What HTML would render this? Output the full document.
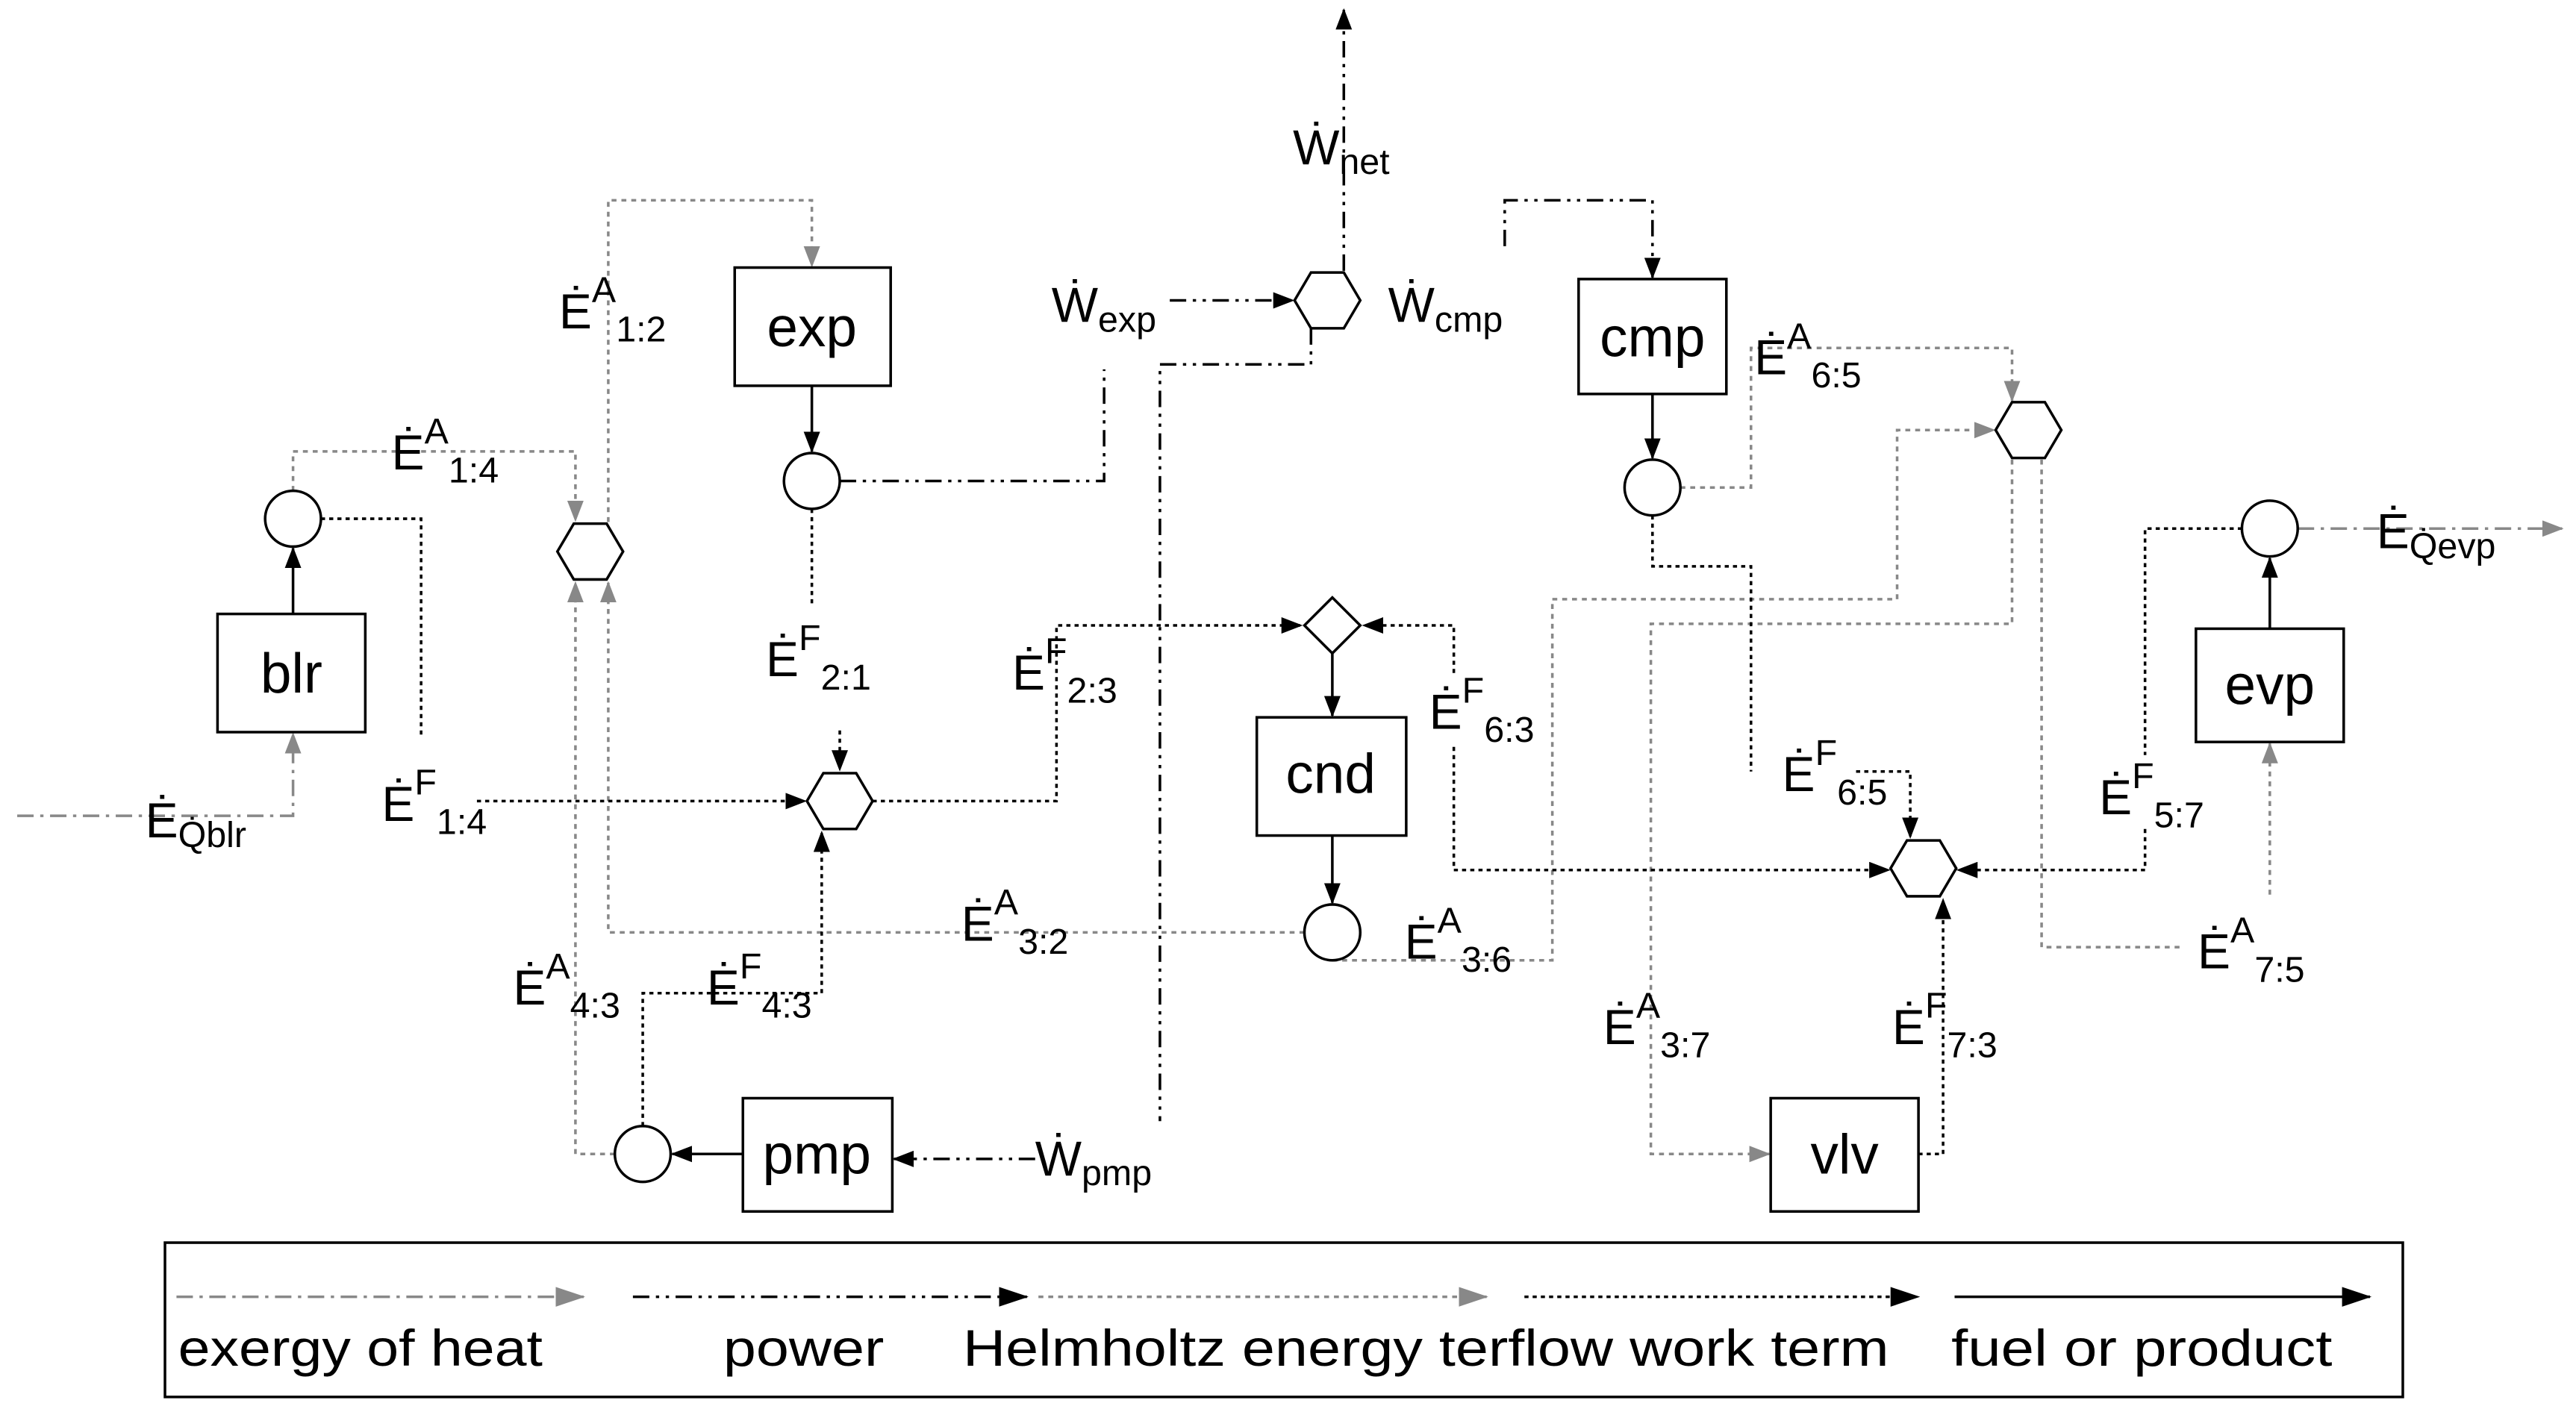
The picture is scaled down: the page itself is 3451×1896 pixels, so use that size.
<!DOCTYPE html>
<html><head><meta charset="utf-8"><style>
html,body{margin:0;padding:0;background:#fff}
svg{display:block}
text{font-family:"Liberation Sans",sans-serif;fill:#000}
</style></head><body>
<svg width="3451" height="1896" viewBox="0 0 1568 862" xmlns="http://www.w3.org/2000/svg">
<defs>
<marker id="ab" markerWidth="13" markerHeight="10" refX="12" refY="5" orient="auto" markerUnits="userSpaceOnUse"><path d="M0,0 L13,5 L0,10z" fill="#000"/></marker>
<marker id="ag" markerWidth="13" markerHeight="10" refX="12" refY="5" orient="auto" markerUnits="userSpaceOnUse"><path d="M0,0 L13,5 L0,10z" fill="#888"/></marker>
<marker id="abl" markerWidth="18" markerHeight="12" refX="17" refY="6" orient="auto" markerUnits="userSpaceOnUse"><path d="M0,0 L18,6 L0,12z" fill="#000"/></marker>
<marker id="agl" markerWidth="18" markerHeight="12" refX="17" refY="6" orient="auto" markerUnits="userSpaceOnUse"><path d="M0,0 L18,6 L0,12z" fill="#888"/></marker>
</defs>
<g fill="none" stroke-width="1.6">
<g stroke="#888" stroke-dasharray="3 3" marker-end="url(#ag)">
<path d="M370,318 V122 H494 V162"/>
<path d="M178,299 V275 H350 V317"/>
<path d="M374,703 H350 V355"/>
<path d="M794,568 H370 V355"/>
<path d="M811,585 H945 V365 H1155 V262 H1214"/>
<path d="M1023,297 H1066 V212 H1225 V244"/>
<path d="M1225,280 V380 H1005 V703 H1077"/>
<path d="M1382,545 V453"/>
</g>
<path d="M1243,280 V577 H1330" stroke="#888" stroke-dasharray="3 3"/>
<g stroke="#888" stroke-dasharray="10 4 2 4" marker-end="url(#ag)">
<path d="M10,497 H178 V447"/>
<path d="M1399,322 H1560"/>
</g>
<g stroke="#000" stroke-dasharray="10 4 2 4 2 4">
<path d="M818,165 V6" marker-end="url(#ab)"/>
<path d="M712,183 H787" marker-end="url(#ab)"/>
<path d="M511,293 H672 V225"/>
<path d="M798,200 V222 H706 V683"/>
<path d="M630,706 H544" marker-end="url(#ab)"/>
<path d="M916,150 V122 H1006 V169" marker-end="url(#ab)"/>
</g>
<g stroke="#000" stroke-dasharray="2.5 2.5">
<path d="M195,316 H256 V450"/>
<path d="M290,488 H490" marker-end="url(#ab)"/>
<path d="M494,310 V370"/>
<path d="M511,445 V469" marker-end="url(#ab)"/>
<path d="M531,488 H643 V381 H792" marker-end="url(#ab)"/>
<path d="M885,410 V381 H830" marker-end="url(#ab)"/>
<path d="M885,455 V530 H1150" marker-end="url(#ab)"/>
<path d="M1006,314 V345 H1066 V470"/>
<path d="M1130,470 H1163 V510" marker-end="url(#ab)"/>
<path d="M391,686 V605 H500 V507" marker-end="url(#ab)"/>
<path d="M1168,703 H1183 V548" marker-end="url(#ab)"/>
<path d="M1365,322 H1306 V460"/>
<path d="M1306,505 V530 H1192" marker-end="url(#ab)"/>
</g>
<g stroke="#000" marker-end="url(#ab)">
<path d="M178,374 V334"/>
<path d="M494,235 V275"/>
<path d="M1006,240 V279"/>
<path d="M1382,383 V340"/>
<path d="M811,396 V436"/>
<path d="M811,509 V550"/>
<path d="M452,703 H409"/>
</g>
<g stroke="#000" fill="#fff">
<rect x="132" y="374" width="90" height="72"/>
<rect x="447" y="163" width="95" height="72"/>
<rect x="765" y="437" width="91" height="72"/>
<rect x="961" y="170" width="90" height="70"/>
<rect x="1337" y="383" width="90" height="69"/>
<rect x="452" y="669" width="91" height="69"/>
<rect x="1078" y="669" width="90" height="69"/>
<circle cx="178" cy="316" r="17"/>
<circle cx="494" cy="293" r="17"/>
<circle cx="811" cy="568" r="17"/>
<circle cx="1006" cy="297" r="17"/>
<circle cx="1382" cy="322" r="17"/>
<circle cx="391" cy="703" r="17"/>
<path d="M811,364 L828,381 L811,398 L794,381z"/>
<path d="M349,319 H369 L379,336 L369,353 H349 L339,336z"/>
<path d="M501,471 H521 L531,488 L521,505 H501 L491,488z"/>
<path d="M798,166 H818 L828,183 L818,200 H798 L788,183z"/>
<path d="M1225,245 H1245 L1255,262 L1245,279 H1225 L1215,262z"/>
<path d="M1161,512 H1181 L1191,529 L1181,546 H1161 L1151,529z"/>
</g>
<rect x="100" y="757" width="1363" height="94" stroke="#000"/>
<path d="M107,790 H355" stroke="#888" stroke-dasharray="10 4 2 4" marker-end="url(#agl)"/>
<path d="M385,790 H625" stroke="#000" stroke-dasharray="10 4 2 4 2 4" marker-end="url(#abl)"/>
<path d="M632,790 H905" stroke="#888" stroke-dasharray="3 3" marker-end="url(#agl)"/>
<path d="M928,790 H1168" stroke="#000" stroke-dasharray="2.5 2.5" marker-end="url(#abl)"/>
<path d="M1190,790 H1443" stroke="#000" marker-end="url(#abl)"/>
</g>
<g font-size="34" text-anchor="middle">
<text x="177" y="422">blr</text>
<text x="494" y="211">exp</text>
<text x="810" y="483">cnd</text>
<text x="1006" y="217">cmp</text>
<text x="1382" y="429">evp</text>
<text x="497" y="715">pmp</text>
<text x="1123" y="715">vlv</text>
</g>
<g font-size="31">
<text x="108" y="832" textLength="222" lengthAdjust="spacingAndGlyphs">exergy of heat</text>
<text x="440" y="832" textLength="98" lengthAdjust="spacingAndGlyphs">power</text>
<text x="586" y="832" textLength="564" lengthAdjust="spacingAndGlyphs">Helmholtz energy terflow work term</text>
<text x="1188" y="832" textLength="232" lengthAdjust="spacingAndGlyphs">fuel or product</text>
</g>
<g font-size="30">
<text x="787" y="100">Ẇ<tspan font-size="22" dy="6">net</tspan></text>
<text x="640" y="196">Ẇ<tspan font-size="22" dy="6">exp</tspan></text>
<text x="845" y="196">Ẇ<tspan font-size="22" dy="6">cmp</tspan></text>
<text x="630" y="716">Ẇ<tspan font-size="22" dy="6">pmp</tspan></text>
<text x="340" y="200">Ė<tspan font-size="22" dy="-16">A</tspan><tspan font-size="22" dy="24">1:2</tspan></text>
<text x="238" y="286">Ė<tspan font-size="22" dy="-16">A</tspan><tspan font-size="22" dy="24">1:4</tspan></text>
<text x="232" y="500">Ė<tspan font-size="22" dy="-16">F</tspan><tspan font-size="22" dy="24">1:4</tspan></text>
<text x="466" y="412">Ė<tspan font-size="22" dy="-16">F</tspan><tspan font-size="22" dy="24">2:1</tspan></text>
<text x="616" y="420">Ė<tspan font-size="22" dy="-16">F</tspan><tspan font-size="22" dy="24">2:3</tspan></text>
<text x="870" y="444">Ė<tspan font-size="22" dy="-16">F</tspan><tspan font-size="22" dy="24">6:3</tspan></text>
<text x="1068" y="228">Ė<tspan font-size="22" dy="-16">A</tspan><tspan font-size="22" dy="24">6:5</tspan></text>
<text x="1085" y="482">Ė<tspan font-size="22" dy="-16">F</tspan><tspan font-size="22" dy="24">6:5</tspan></text>
<text x="1278" y="496">Ė<tspan font-size="22" dy="-16">F</tspan><tspan font-size="22" dy="24">5:7</tspan></text>
<text x="1338" y="590">Ė<tspan font-size="22" dy="-16">A</tspan><tspan font-size="22" dy="24">7:5</tspan></text>
<text x="585" y="573">Ė<tspan font-size="22" dy="-16">A</tspan><tspan font-size="22" dy="24">3:2</tspan></text>
<text x="855" y="584">Ė<tspan font-size="22" dy="-16">A</tspan><tspan font-size="22" dy="24">3:6</tspan></text>
<text x="976" y="636">Ė<tspan font-size="22" dy="-16">A</tspan><tspan font-size="22" dy="24">3:7</tspan></text>
<text x="1152" y="636">Ė<tspan font-size="22" dy="-16">F</tspan><tspan font-size="22" dy="24">7:3</tspan></text>
<text x="312" y="612">Ė<tspan font-size="22" dy="-16">A</tspan><tspan font-size="22" dy="24">4:3</tspan></text>
<text x="430" y="612">Ė<tspan font-size="22" dy="-16">F</tspan><tspan font-size="22" dy="24">4:3</tspan></text>
<text x="88" y="510">Ė<tspan font-size="22" dy="6">Q̇blr</tspan></text>
<text x="1447" y="334">Ė<tspan font-size="22" dy="6">Q̇evp</tspan></text>
</g>
</svg>
</body></html>
